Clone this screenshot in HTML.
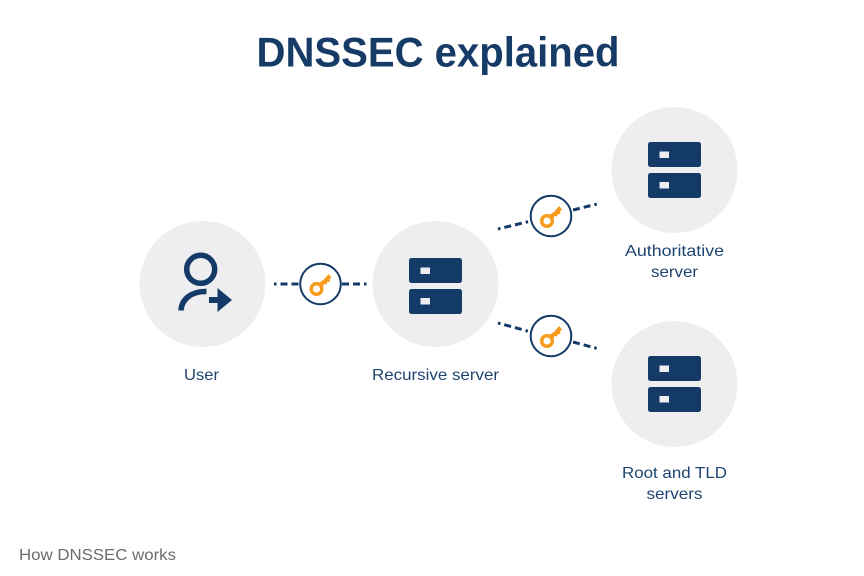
<!DOCTYPE html>
<html>
<head>
<meta charset="utf-8">
<style>
html,body{margin:0;padding:0;background:#fff;}
svg{display:block;}
text{font-family:"Liberation Sans",sans-serif;}
</style>
</head>
<body>
<svg width="864" height="576" viewBox="0 0 864 576" xmlns="http://www.w3.org/2000/svg">
<defs>
<g id="srv">
<rect x="-26.5" y="-27" width="53" height="25" rx="2.5" fill="#143a68"/>
<rect x="-26.5" y="4" width="53" height="25" rx="2.500" fill="#143a68"/>
<rect x="-15" y="-17.5" width="9.500" height="6.500" fill="#eceef0"/>
<rect x="-15" y="13" width="9.500" height="6.500" fill="#eceef0"/>
</g>
<g id="key">
<circle cx="-4" cy="5" r="5.300" fill="none" stroke="#f89a1c" stroke-width="3.400"/>
<path d="M-2 -1 L3 -4 L6 -7.500 L8 -10 L11 -6.500 L9 -4.500 L9.500 -2 L6.500 -2 L6.500 0.500 L3.500 0 L2 4 Z" fill="#f89a1c"/>
</g>
</defs>
<rect width="864" height="576" fill="#fff"/>
<text x="438" y="66.500" text-anchor="middle" font-size="42" font-weight="700" fill="#173b67" textLength="363" lengthAdjust="spacingAndGlyphs">DNSSEC explained</text>

<circle cx="202.500" cy="284" r="63" fill="#eeeef0"/>
<circle cx="435.500" cy="284" r="63" fill="#eeeef0"/>
<circle cx="674.500" cy="170" r="63" fill="#eeeef0"/>
<circle cx="674.500" cy="384" r="63" fill="#eeeef0"/>

<circle cx="200.700" cy="269.300" r="14" fill="none" stroke="#143a68" stroke-width="5.500"/>
<path d="M181 310.500 C181.500 299 192 291 206.500 291.500" fill="none" stroke="#143a68" stroke-width="5.500"/>
<path d="M209 297 H217.500 V288 L232 300 L217.500 312 V303 H209 Z" fill="#143a68"/>

<use href="#srv" x="435.500" y="285"/>
<use href="#srv" x="674.500" y="169"/>
<use href="#srv" x="674.500" y="383"/>

<g fill="none" stroke="#143a68" stroke-width="3">
<path d="M274 284 H300" stroke-dasharray="2.500 4 7 4 7 4"/>
<path d="M342 284 H368" stroke-dasharray="7 4 7 4 2.500"/>
<path d="M498 229 L531 221" stroke-dasharray="2.500 4 7 4 7 4"/>
<path d="M573 210 L599 203.500" stroke-dasharray="7 4 7 4 2.500"/>
<path d="M498 323 L531 332" stroke-dasharray="2.500 4 7 4 7 4"/>
<path d="M573 342 L599 349" stroke-dasharray="7 4 7 4 2.500"/>
</g>

<g fill="#fff" stroke="#143a68" stroke-width="2">
<circle cx="320.500" cy="284" r="20.300"/>
<circle cx="551" cy="216" r="20.300"/>
<circle cx="551" cy="336" r="20.300"/>
</g>
<use href="#key" x="320.500" y="284"/>
<use href="#key" x="551" y="216"/>
<use href="#key" x="551" y="336"/>

<g font-size="16" fill="#1e4470" text-anchor="middle">
<text x="201.500" y="380" textLength="35" lengthAdjust="spacingAndGlyphs">User</text>
<text x="435.500" y="380" textLength="127" lengthAdjust="spacingAndGlyphs">Recursive server</text>
<text x="674.500" y="256" textLength="99" lengthAdjust="spacingAndGlyphs">Authoritative</text>
<text x="674.500" y="277" textLength="47" lengthAdjust="spacingAndGlyphs">server</text>
<text x="674.500" y="478" textLength="105" lengthAdjust="spacingAndGlyphs">Root and TLD</text>
<text x="674.500" y="499" textLength="56" lengthAdjust="spacingAndGlyphs">servers</text>
</g>
<text x="19" y="560" font-size="16" fill="#6b6b6b" textLength="157" lengthAdjust="spacingAndGlyphs">How DNSSEC works</text>
</svg>
</body>
</html>
